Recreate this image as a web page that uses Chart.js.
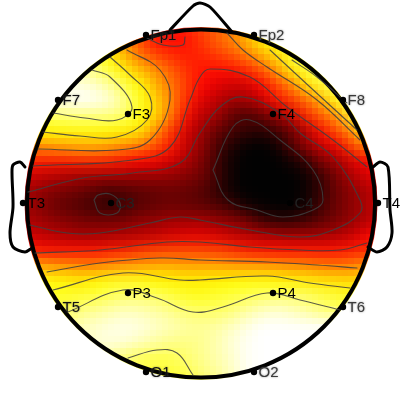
<!DOCTYPE html>
<html><head><meta charset="utf-8">
<style>html,body{margin:0;padding:0;background:#fff}canvas{display:block}</style>
<script src="https://cdn.jsdelivr.net/npm/chart.js@4"></script>
</head><body><canvas id="c" width="400" height="400"></canvas>
<script>
const gridX=[20,35,50,65,80,95,110,125,140,155,170,185,200,215,230,245,260,275,290,305,320,335,350,365,380];
const gridY=[25,40,55,70,85,100,115,130,145,160,175,190,205,220,235,250,265,280,295,310,325,340,355,370,385];
const levels=[
[30,30,30,30,30,30,32,38,48,56,60,58,54,50,45,38,30,26,24,24,24,24,24,24,24],
[30,30,30,30,30,30,32,40,52,60,61,60,54,48,43,36,27,22,20,20,20,20,20,20,20],
[14,14,14,14,14,18,26,37,46,52,56,58,57,54,50,44,37,29,20,16,16,16,16,16,16],
[10,10,10,8,9,13,20,27,35,41,48,55,59,60,60,57,50,40,28,20,16,16,16,16,16],
[5,5,4,3,3,5,10,18,25,36,45,53,61,66,69,69,62,52,43,29,20,16,16,16,16],
[2,2,2,1,0,1,4,12,22,31,42,56,66,72,76,76,71,60,54,47,36,23,17,16,16],
[15,15,15,13,12,12,12,15,24,30,44,60,72,75,85,89,85,78,70,56,48,40,20,18,18],
[26,26,25,24,24,24,25,26,28,41,54,68,76,84,89,92,94,90,84,73,60,50,41,25,25],
[40,40,39,37,36,36,38,41,44,50,58,70,78,88,95,99,100,98,88,78,70,64,52,42,42],
[57,58,58,58,57,57,58,60,62,64,68,74,81,90,98,100,100,100,97,92,81,76,68,62,58],
[68,70,72,74,75,76,76,76,77,77,78,80,83,90,98,100,100,100,100,98,91,82,74,68,64],
[74,77,80,82,84,87,90,88,86,85,84,85,87,92,98,100,100,100,100,98,92,84,79,74,70],
[74,79,83,86,88,91,93,90,87,85,84,85,86,88,91,97,99,100,100,97,90,84,79,74,70],
[74,75,78,80,82,83,83,82,79,78,76,76,75,78,80,83,90,93,93,90,86,82,78,73,70],
[68,70,72,74,75,75,74,73,72,70,68,66,66,67,70,72,73,74,75,75,75,73,70,63,60],
[58,59,60,60,60,60,58,57,55,53,52,52,52,53,55,58,59,60,60,60,60,60,58,56,52],
[36,36,38,40,41,42,40,38,37,36,36,37,37,37,38,38,38,39,40,41,43,44,43,40,38],
[22,22,24,26,28,25,23,22,23,25,26,27,27,26,25,24,24,25,26,27,28,29,30,28,28],
[20,20,21,21,20,19,16,14,14,15,18,21,22,20,19,17,15,14,14,15,18,20,22,22,22],
[18,18,18,16,12,10,8,6,7,9,11,14,15,15,13,9,6,4,6,9,12,14,16,16,16],
[12,12,12,9,7,5,3,2,3,5,7,9,10,9,6,3,0,0,0,0,0,0,0,0,0],
[10,10,10,8,6,4,3,4,6,9,11,12,11,8,4,1,0,0,0,0,0,0,0,0,0],
[10,10,10,8,7,7,10,13,16,17,17,14,11,8,5,1,0,0,0,0,0,0,0,0,0],
[10,10,10,10,10,10,13,16,18,20,19,17,13,10,6,1,0,0,0,0,0,0,0,0,0],
[12,12,12,12,12,12,16,18,20,22,22,20,16,12,8,2,0,0,0,0,0,0,0,0,0]
];
const channels=["Fp1","Fp2","F7","F3","F4","F8","T3","C3","C4","T4","T5","P3","P4","T6","O1","O2"];
const channelX=[146,254,58,128,273,343,23,111,290,378,58,128,273,343,146,254];
const channelY=[35,35,100,114,114,100,203,203,203,203,307,293,293,307,372,372];
const headCenter=[201,203.5], headRadius=174;
const nose=[[170,30],[193,6],[200,3],[210,7],[232,32]];
const earLeft=[[25,167],[20,162],[13,165],[12,173],[13,207],[10,233],[13,247],[25,252],[32,248]];
const earRight=[[373,167],[380,162],[388,167],[390,210],[392,233],[387,247],[377,252],[368,247]];
const contours=[
[[53,113],[85,118],[117,120],[132,107],[110,77],[92,70]],
[[43,132],[80,136],[117,137],[147,120],[150,97],[130,75],[110,57]],
[[38,149],[117,150],[150,140],[170,100],[160,70],[127,50]],
[[33,166],[133,160],[170,147],[190,100],[200,77],[210,69],[250,77],[287,107],[333,140],[367,167]],
[[28,192],[83,178],[133,173],[180,163],[200,133],[220,107],[243,97],[280,113],[300,133],[333,157],[360,200],[360,213],[333,230],[300,237],[250,230],[200,220],[180,217],[150,223],[100,233],[67,233],[30,225]],
[[213,170],[233,127],[250,120],[280,140],[313,170],[323,200],[313,210],[283,217],[257,210],[228,200],[213,170]],
[[94,200],[100,213],[117,213],[120,203],[110,194],[98,195],[94,200]],
[[35,253],[100,250],[167,242],[200,242],[250,247],[300,250],[340,250],[367,243]],
[[47,272],[100,263],[160,258],[200,260],[267,262],[317,265],[357,268]],
[[53,290],[123,273],[180,280],[200,280],[267,276],[310,283],[350,288]],
[[68,312],[123,290],[157,298],[193,312],[223,307],[267,293],[300,300],[340,310]],
[[227,33],[243,50],[267,67],[317,100],[360,140]],
[[270,50],[310,87],[357,130]],
[[292,60],[317,77],[347,103]],
[[128,358],[157,350],[177,353],[193,375]],
[[147,38],[163,45],[183,45],[185,37]]
];

function levelColor(v){
  let r,g,b;
  if(v<=25){r=255;g=255;b=255*(1-v/25);}
  else if(v<=62){r=255;g=255*(62-v)/37;b=0;}
  else{r=255*(100-v)/38;g=0;b=0;}
  return `rgb(${r|0},${g|0},${b|0})`;
}
const cells=[],cellColors=[];
levels.forEach((row,j)=>row.forEach((v,i)=>{cells.push({x:gridX[i],y:gridY[j]});cellColors.push(levelColor(v));}));
const toPts=a=>a.map(p=>({x:p[0],y:p[1]}));
const lineSet=(a,color,w,t,order)=>({type:'scatter',data:toPts(a),showLine:true,borderColor:color,borderWidth:w,tension:t,pointRadius:0,order:order,fill:false});

const datasets=[
 {type:'scatter',data:cells,pointStyle:'rect',pointRadius:11,pointBorderWidth:0,pointBackgroundColor:cellColors,showLine:false,order:10},
 ...contours.map(c=>lineSet(c,'rgba(64,64,64,0.85)',1.1,0.4,5)),
 lineSet(nose,'#000',3,0.25,3),
 lineSet(earLeft,'#000',3,0.3,3),
 lineSet(earRight,'#000',3,0.3,3),
 {type:'scatter',data:channelX.map((x,i)=>({x,y:channelY[i]})),pointStyle:'circle',pointRadius:3.2,pointBorderWidth:0,pointBackgroundColor:'#000',showLine:false,order:1}
];

const headPlugin={id:'head',
 afterDatasetDraw(chart,args){
  if(args.index!==0)return;
  const ctx=chart.ctx,cv=chart.canvas,sx=chart.scales.x,sy=chart.scales.y;
  const cx=sx.getPixelForValue(headCenter[0]),cy=sy.getPixelForValue(headCenter[1]);
  const rad=sx.getPixelForValue(headCenter[0]+headRadius)-cx;
  const raw=document.createElement('canvas');raw.width=cv.width;raw.height=cv.height;
  raw.getContext('2d').drawImage(cv,0,0);
  const soft=document.createElement('canvas');soft.width=cv.width;soft.height=cv.height;
  const sc=soft.getContext('2d');sc.filter='blur(7px)';sc.drawImage(raw,0,0);
  const cell=6,small=document.createElement('canvas');small.width=Math.ceil(cv.width/cell);small.height=Math.ceil(cv.height/cell);
  const mc=small.getContext('2d');mc.imageSmoothingEnabled=true;mc.imageSmoothingQuality='high';mc.drawImage(soft,0,0,small.width,small.height);
  ctx.save();
  ctx.setTransform(1,0,0,1,0,0);
  ctx.clearRect(0,0,cv.width,cv.height);
  ctx.beginPath();ctx.arc(cx,cy,rad+2.5,0,Math.PI*2);ctx.clip();
  ctx.imageSmoothingEnabled=false;
  ctx.filter='blur(0.6px)';
  ctx.drawImage(small,0,0,small.width*cell,small.height*cell);
  ctx.restore();
  ctx.save();
  ctx.beginPath();ctx.arc(cx,cy,rad,0,Math.PI*2);
  ctx.lineWidth=4;ctx.strokeStyle='#000';ctx.stroke();
  ctx.restore();
 },
 afterDatasetsDraw(chart){
  const ctx=chart.ctx,sx=chart.scales.x,sy=chart.scales.y;
  ctx.save();
  ctx.font='15px "Liberation Sans", Arial, sans-serif';
  ctx.textBaseline='middle';ctx.textAlign='left';
  const outer=new Set(["Fp1","Fp2","F8","T6","O2","O1","T5","F7"]);
  channels.forEach((n,i)=>{
    const px=sx.getPixelForValue(channelX[i])+4.5,py=sy.getPixelForValue(channelY[i])+1;
    if(outer.has(n)){ctx.shadowColor='rgba(90,90,90,0.75)';ctx.shadowBlur=2;ctx.fillStyle=(n==="Fp2"||n==="F8"||n==="T6"||n==="O2")?'#3a3a3a':'#111';}
    else{ctx.shadowBlur=0;ctx.fillStyle=(n==="C4"||n==="C3")?'#222':'#000';}
    ctx.fillText(n,px,py);
  });
  ctx.restore();
 }
};
new Chart(document.getElementById('c'),{
 type:'scatter',
 data:{datasets},
 options:{responsive:false,animation:false,
  layout:{padding:0,autoPadding:false},
  plugins:{legend:{display:false},tooltip:{enabled:false},title:{display:false}},
  scales:{x:{type:'linear',min:0,max:400,display:false},y:{type:'linear',min:0,max:400,reverse:true,display:false}},
  elements:{line:{borderCapStyle:'round'}}
 },
 plugins:[headPlugin]
});
</script></body></html>
